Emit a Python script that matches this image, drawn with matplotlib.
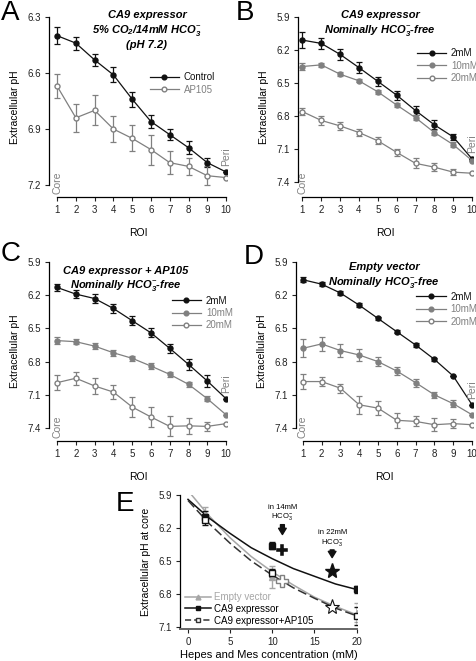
import numpy as np
import matplotlib.pyplot as plt
from matplotlib.lines import Line2D

plt.rcParams['font.family'] = ['Liberation Sans', 'DejaVu Sans']
plt.rcParams['mathtext.fontset'] = 'custom'
plt.rcParams['mathtext.rm'] = 'Liberation Sans'
plt.rcParams['mathtext.it'] = 'Liberation Sans:italic'
plt.rcParams['mathtext.bf'] = 'Liberation Sans:bold'
plt.rcParams['mathtext.bfit'] = 'Liberation Sans:bold:italic'

roi = np.arange(1, 11)

# panel A : CA9 expressor, 5% CO2 / 14 mM HCO3-
a_ctrl = [6.40, 6.44, 6.53, 6.61, 6.74, 6.86, 6.93, 7.00, 7.08, 7.13]
a_ctrl_err = [0.045, 0.035, 0.03, 0.04, 0.04, 0.035, 0.03, 0.035, 0.025, 0.0]
a_ap = [6.67, 6.84, 6.80, 6.90, 6.95, 7.01, 7.08, 7.10, 7.15, 7.16]
a_ap_err = [0.063, 0.075, 0.08, 0.07, 0.07, 0.08, 0.06, 0.045, 0.05, 0.0]

# panel B : CA9 expressor, nominally HCO3- free
b_2 = [6.11, 6.14, 6.24, 6.36, 6.485, 6.61, 6.75, 6.88, 6.99, 7.19]
b_2_err = [0.075, 0.05, 0.05, 0.05, 0.04, 0.04, 0.04, 0.04, 0.03, 0.0]
b_10 = [6.35, 6.335, 6.42, 6.48, 6.58, 6.70, 6.815, 6.95, 7.06, 7.205]
b_10_err = [0.03, 0.02, 0.02, 0.015, 0.02, 0.02, 0.02, 0.02, 0.02, 0.0]
b_20 = [6.76, 6.84, 6.89, 6.95, 7.025, 7.13, 7.23, 7.265, 7.31, 7.32]
b_20_err = [0.03, 0.04, 0.04, 0.03, 0.03, 0.03, 0.045, 0.035, 0.03, 0.0]

# panel C : CA9 expressor + AP105
c_2 = [6.13, 6.19, 6.23, 6.32, 6.43, 6.54, 6.68, 6.825, 6.975, 7.135]
c_2_err = [0.03, 0.035, 0.04, 0.04, 0.04, 0.04, 0.04, 0.05, 0.05, 0.0]
c_10 = [6.61, 6.62, 6.66, 6.72, 6.77, 6.84, 6.915, 7.005, 7.135, 7.28]
c_10_err = [0.03, 0.025, 0.025, 0.025, 0.02, 0.025, 0.025, 0.025, 0.025, 0.0]
c_20 = [6.99, 6.95, 7.02, 7.075, 7.21, 7.30, 7.385, 7.38, 7.385, 7.36]
c_20_err = [0.07, 0.06, 0.07, 0.06, 0.09, 0.09, 0.09, 0.07, 0.04, 0.0]

# panel D : empty vector
d_2 = [6.06, 6.10, 6.18, 6.29, 6.41, 6.53, 6.65, 6.78, 6.93, 7.19]
d_2_err = [0.025, 0.02, 0.02, 0.02, 0.015, 0.015, 0.015, 0.012, 0.0, 0.0]
d_10 = [6.68, 6.64, 6.70, 6.74, 6.80, 6.885, 6.99, 7.10, 7.18, 7.28]
d_10_err = [0.08, 0.06, 0.06, 0.05, 0.04, 0.04, 0.035, 0.025, 0.03, 0.0]
d_20 = [6.98, 6.98, 7.04, 7.19, 7.22, 7.33, 7.34, 7.37, 7.36, 7.37]
d_20_err = [0.07, 0.04, 0.04, 0.08, 0.06, 0.07, 0.045, 0.06, 0.04, 0.0]

# panel E : core pH vs buffer concentration
conc = [2, 10, 20]
e_empty = [6.08, 6.65, 6.97]
e_empty_err = [0.07, 0.10, 0.09]
e_ca9 = [6.10, 6.36, 6.76]
e_ca9_err = [0.05, 0.03, 0.03]
e_ap = [6.13, 6.61, 7.00]
e_ap_err = [0.04, 0.04, 0.08]
# fitted curves
fit_x = [0, 2.5, 5, 7.5, 10, 12.5, 15, 17.5, 20]
fit_empty = [5.86, 6.09, 6.29, 6.46, 6.60, 6.72, 6.83, 6.915, 6.99]
fit_ca9 = [5.94, 6.11, 6.25, 6.38, 6.48, 6.57, 6.64, 6.71, 6.76]
fit_ap = [5.95, 6.16, 6.34, 6.50, 6.63, 6.745, 6.84, 6.93, 7.00]
# measurements in bicarbonate
hco3_x = [11.2, 17.1]
hco3_ca9 = [6.40, 6.59]
hco3_ap = [6.68, 6.92]

BLACK = '#111111'
GRAY = '#808080'
LGRAY = '#a6a6a6'
W, H = 477, 661

fig = plt.figure(figsize=(W / 100, H / 100), dpi=100)


def add_ax(left, top, right, bottom):
    return fig.add_axes([left / W, 1 - bottom / H, (right - left) / W, (bottom - top) / H])


def style(ax, ybounds, xbounds):
    for s in ['top', 'right']:
        ax.spines[s].set_visible(False)
    ax.spines['left'].set_bounds(*ybounds)
    ax.spines['bottom'].set_bounds(*xbounds)
    for s in ['left', 'bottom']:
        ax.spines[s].set_linewidth(0.9)
    ax.tick_params(direction='out', length=3, width=0.8, labelsize=7, colors='#222222', pad=3)


def roi_panel(ax, series, xlim, ylim, yticks, leg_xy, title, tcx, tcy):
    handles = []
    for vals, errs, color, face, label in series:
        ax.errorbar(roi, vals, yerr=errs, color=color, mfc=face, mec=color, marker='o',
                    ms=3.6, lw=0.9, elinewidth=0.9, capsize=2.3, capthick=0.9)
        handles.append(Line2D([], [], color=color, mfc=face, mec=color, marker='o',
                              ms=3.4, lw=0.9))
    ax.set_xlim(*xlim)
    ax.set_ylim(*ylim)
    ax.set_yticks(yticks)
    ax.set_yticklabels(['%.1f' % t for t in yticks])
    ax.set_xticks(roi)
    style(ax, (yticks[0], yticks[-1]), (1, 10))
    ax.set_ylabel('Extracellular pH', fontsize=7.5, labelpad=5)
    ax.set_xlabel('ROI', fontsize=7.5, labelpad=9)
    leg = ax.legend(handles, [s[4] for s in series], loc='center left', bbox_to_anchor=leg_xy,
                    frameon=False, fontsize=7, handlelength=3.0, handletextpad=0.5,
                    labelspacing=0.25, borderpad=0, borderaxespad=0)
    for txt, s in zip(leg.get_texts(), series):
        txt.set_color(s[2])
    ax.annotate('Core', (1, ylim[0]), xytext=(0, 2), textcoords='offset points', rotation=90,
                ha='center', va='bottom', color=GRAY, fontsize=7.5)
    ax.annotate('Peri', (10, series[0][0][-1]), xytext=(0, 4), textcoords='offset points',
                rotation=90, ha='center', va='bottom', color=GRAY, fontsize=7.5)
    fig.text(tcx / W, 1 - tcy / H, title, ha='center', va='top', fontsize=8,
             fontweight='bold', fontstyle='italic', linespacing=1.25)


axA = add_ax(49, 17, 227, 197)
roi_panel(axA, [(a_ctrl, a_ctrl_err, BLACK, BLACK, 'Control'),
                (a_ap, a_ap_err, GRAY, 'white', 'AP105')],
          (0.57, 10.05), (7.264, 6.3), [6.3, 6.6, 6.9, 7.2], (0.565, 0.63),
          'CA9 expressor\n5% CO$_{\\mathbfit{2}}$/14mM HCO$_{\\mathbfit{3}}^{-}$\n(pH 7.2)', 147, 10)

axB = add_ax(298, 17, 473, 197)
roi_panel(axB, [(b_2, b_2_err, BLACK, BLACK, '2mM'),
                (b_10, b_10_err, GRAY, GRAY, '10mM'),
                (b_20, b_20_err, GRAY, 'white', '20mM')],
          (0.766, 10.05), (7.536, 5.9), [5.9, 6.2, 6.5, 6.8, 7.1, 7.4], (0.68, 0.73),
          'CA9 expressor\nNominally HCO$_{\\mathbfit{3}}^{-}$-free', 380, 10)

axC = add_ax(49, 262, 227, 441)
roi_panel(axC, [(c_2, c_2_err, BLACK, BLACK, '2mM'),
                (c_10, c_10_err, GRAY, GRAY, '10mM'),
                (c_20, c_20_err, GRAY, 'white', '20mM')],
          (0.57, 10.05), (7.517, 5.9), [5.9, 6.2, 6.5, 6.8, 7.1, 7.4], (0.69, 0.715),
          'CA9 expressor + AP105\nNominally HCO$_{\\mathbfit{3}}^{-}$-free', 126, 266)

axD = add_ax(296, 262, 473, 441)
roi_panel(axD, [(d_2, d_2_err, BLACK, BLACK, '2mM'),
                (d_10, d_10_err, GRAY, GRAY, '10mM'),
                (d_20, d_20_err, GRAY, 'white', '20mM')],
          (0.64, 10.05), (7.517, 5.9), [5.9, 6.2, 6.5, 6.8, 7.1, 7.4], (0.68, 0.737),
          'Empty vector\nNominally HCO$_{\\mathbfit{3}}^{-}$-free', 384, 262)

# panel E
axE = add_ax(180, 495, 357, 629)
axE.plot(fit_x, fit_empty, color=LGRAY, lw=1.1)
axE.plot(fit_x, fit_ca9, color=BLACK, lw=1.1)
axE.plot(fit_x, fit_ap, color='#333333', lw=1.1, ls=(0, (6, 2.5)))
axE.errorbar(conc, e_empty, yerr=e_empty_err, fmt='^', color=LGRAY, ms=4, elinewidth=1,
             capsize=2.3, capthick=1)
axE.errorbar(conc, e_ca9, yerr=e_ca9_err, fmt='s', color=BLACK, ms=4, elinewidth=1,
             capsize=2.3, capthick=1)
axE.errorbar(conc, e_ap, yerr=e_ap_err, fmt='s', color=BLACK, mfc='white', ms=4,
             elinewidth=1, capsize=2.3, capthick=1)
axE.plot(hco3_x[0], hco3_ca9[0], 'P', color=BLACK, ms=9, mec='white', mew=0.3)
axE.plot(hco3_x[0], hco3_ap[0], 'P', color=GRAY, mfc='white', ms=9, mew=1)
axE.plot(hco3_x[1], hco3_ca9[1], '*', color=BLACK, ms=11)
axE.plot(hco3_x[1], hco3_ap[1], '*', color=BLACK, mfc='white', ms=11, mew=0.8)

arrow_kw = dict(arrowstyle='simple,head_width=0.55,head_length=0.45,tail_width=0.28',
                color=BLACK, shrinkA=0, shrinkB=0)
axE.annotate('', xy=(hco3_x[0], 6.26), xytext=(hco3_x[0], 6.17), arrowprops=arrow_kw)
axE.annotate('', xy=(hco3_x[1], 6.47), xytext=(hco3_x[1], 6.40), arrowprops=arrow_kw)
axE.text(hco3_x[0], 6.15, 'in 14mM\nHCO$_3^-$', ha='center', va='bottom', fontsize=5.5,
         linespacing=1.1)
axE.text(hco3_x[1], 6.38, 'in 22mM\nHCO$_3^-$', ha='center', va='bottom', fontsize=5.5,
         linespacing=1.1)

axE.set_xlim(-0.95, 20.05)
axE.set_ylim(7.12, 5.9)
axE.set_yticks([5.9, 6.2, 6.5, 6.8, 7.1])
axE.set_xticks([0, 5, 10, 15, 20])
style(axE, (5.9, 7.1), (-0.95, 20.05))
axE.spines['bottom'].set_color('#666666')
axE.spines['bottom'].set_linewidth(1.4)
axE.set_ylabel('Extracellular pH at core', fontsize=7.5, labelpad=5)
axE.set_xlabel('Hepes and Mes concentration (mM)', fontsize=8, labelpad=2)

handles = [Line2D([], [], color=LGRAY, marker='^', ms=3.5, lw=1.1),
           Line2D([], [], color=BLACK, marker='s', ms=3.5, lw=1.1),
           Line2D([], [], color='#333333', marker='s', mfc='white', ms=3.5, lw=1.1,
                  ls=(0, (4, 2)))]
legE = axE.legend(handles, ['Empty vector', 'CA9 expressor', 'CA9 expressor+AP105'],
                  loc='center left', bbox_to_anchor=(0.03, 0.15), frameon=False, fontsize=7,
                  handlelength=2.6, handletextpad=0.3, labelspacing=0.2, borderpad=0,
                  borderaxespad=0)
legE.get_texts()[0].set_color(LGRAY)

for letter, x, y in [('A', 1, 0), ('B', 236, 0), ('C', 1, 241), ('D', 244, 244),
                     ('E', 116, 491)]:
    fig.text(x / W, 1 - y / H, letter, ha='left', va='top', fontsize=20)

fig.savefig('out.png', dpi=100)
